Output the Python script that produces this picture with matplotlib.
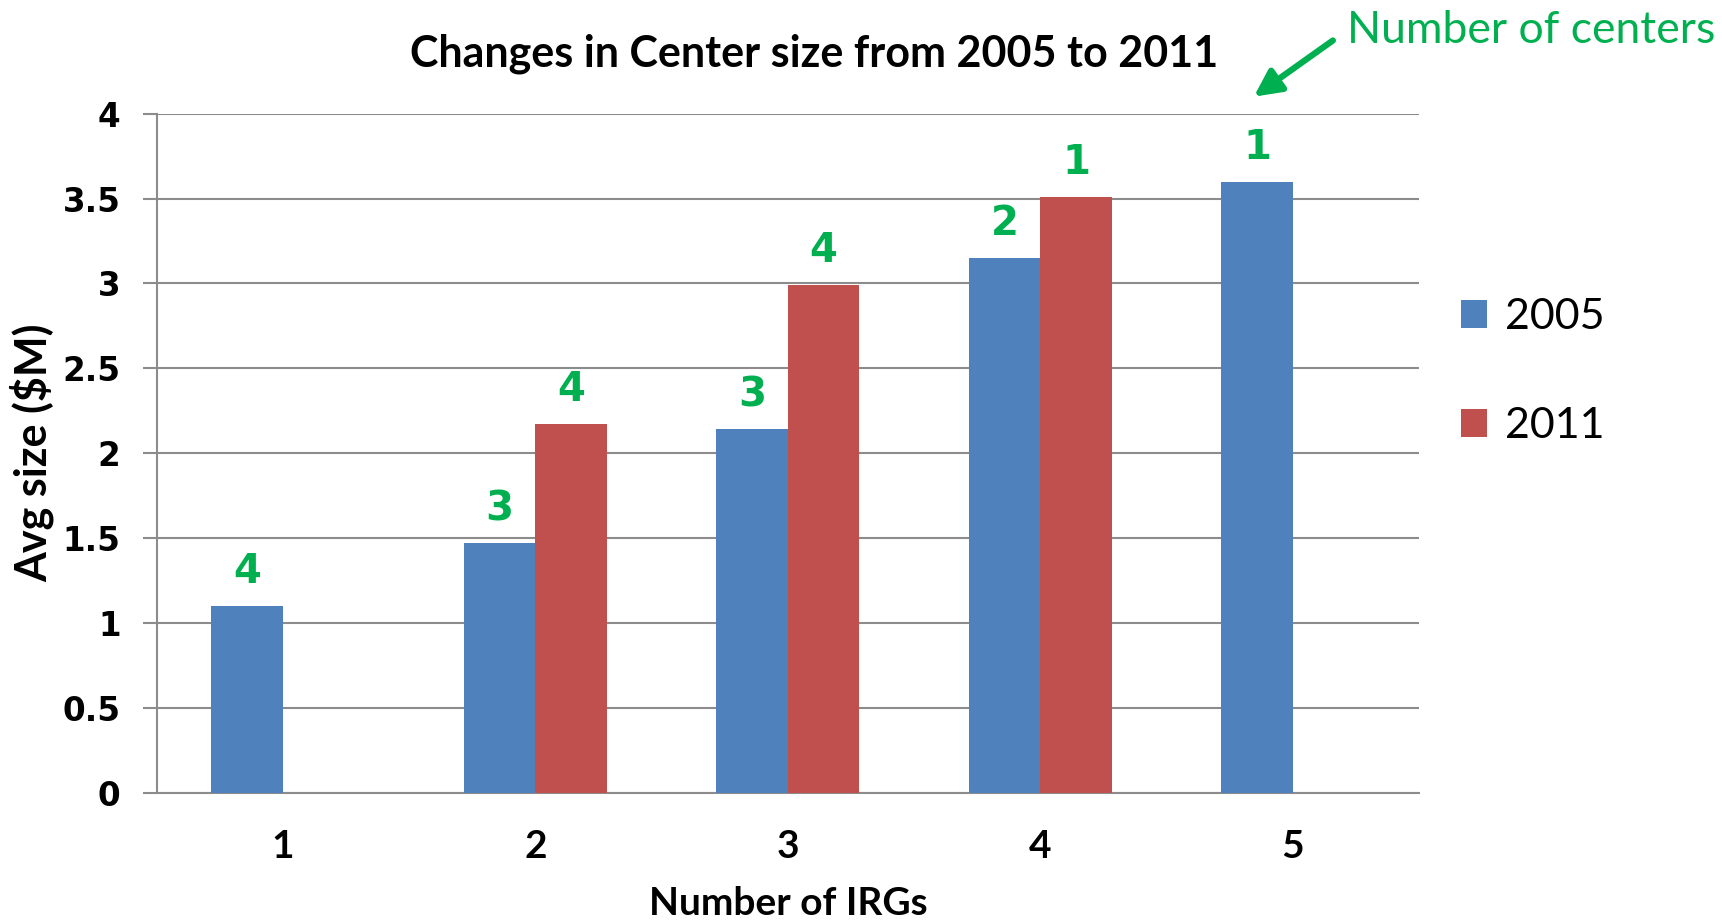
import numpy as np
import matplotlib
matplotlib.use("Agg")
import matplotlib.pyplot as plt

# data
categories = ["1", "2", "3", "4", "5"]
size_2005 = [1.10, 1.47, 2.14, 3.15, 3.60]
size_2011 = [np.nan, 2.17, 2.99, 3.51, np.nan]
centers_2005 = [4, 3, 3, 2, 1]
centers_2011 = [None, 4, 4, 1, None]
yticks = [0, 0.5, 1, 1.5, 2, 2.5, 3, 3.5, 4]
ytick_labels = ["0", "0.5", "1", "1.5", "2", "2.5", "3", "3.5", "4"]

BLUE = "#4F81BD"
RED = "#C0504D"
GREEN = "#00B050"
GRID = "#8C8C8C"

fig = plt.figure(figsize=(17.22, 9.24), dpi=100)
ax = fig.add_axes([0.091, 0.142, 0.733, 0.735])

x = np.arange(1, len(categories) + 1)
w = 0.283
b1 = ax.bar(x - w / 2, size_2005, width=w, color=BLUE, label="2005", zorder=3)
b2 = ax.bar(x + w / 2, size_2011, width=w, color=RED, label="2011", zorder=3)

# green counts above the bars
for bars, counts in ((b1, centers_2005), (b2, centers_2011)):
    for rect, n in zip(bars, counts):
        if n is None:
            continue
        ax.annotate(str(n), xy=(rect.get_x() + rect.get_width() / 2, rect.get_height()),
                    xytext=(0, 10), textcoords="offset points", ha="center", va="bottom",
                    color=GREEN, fontsize=29, fontweight="bold", family="DejaVu Sans")

ax.set_xlim(0.5, 5.5)
ax.set_ylim(0, 4)
ax.set_xticks(x)
ax.set_xticklabels(categories, family="Lato", fontweight="bold", fontsize=28)
ax.set_yticks(yticks)
ax.set_yticklabels(ytick_labels, family="DejaVu Sans", fontweight="bold", fontsize=23.5)
ax.tick_params(axis="x", length=0, pad=26)
ax.tick_params(axis="y", length=10, width=1.5, color=GRID, pad=16)

ax.grid(axis="y", color=GRID, linewidth=1.5, zorder=0)
for s in ("top", "right"):
    ax.spines[s].set_visible(False)
for s in ("left", "bottom"):
    ax.spines[s].set_color(GRID)
    ax.spines[s].set_linewidth(1.5)

ax.set_xlabel("Number of IRGs", family="Lato", fontweight="bold", fontsize=28, labelpad=16)
ax.set_ylabel("Avg size ($M)", family="Lato", fontweight="bold", fontsize=31, labelpad=6)
fig.text(0.473, 0.942, "Changes in Center size from 2005 to 2011", ha="center", va="center",
         family="Lato", fontweight="bold", fontsize=31)

ax.legend(loc="center left", bbox_to_anchor=(1.003, 0.62), frameon=False,
          prop={"family": "Lato", "size": 31}, handlelength=0.6, handleheight=0.6,
          handletextpad=0.4, labelspacing=1.65)

ax.annotate("Number of centers", xy=(4.846, 4.10), xytext=(5.215, 4.49),
            xycoords="data", textcoords="data", ha="left", va="center",
            color=GREEN, fontsize=32, family="Lato", annotation_clip=False,
            arrowprops=dict(arrowstyle="-|>", color=GREEN, lw=4.5, mutation_scale=40,
                            relpos=(0, 0.5), shrinkA=10, shrinkB=0))

fig.savefig("out.png", dpi=100)
